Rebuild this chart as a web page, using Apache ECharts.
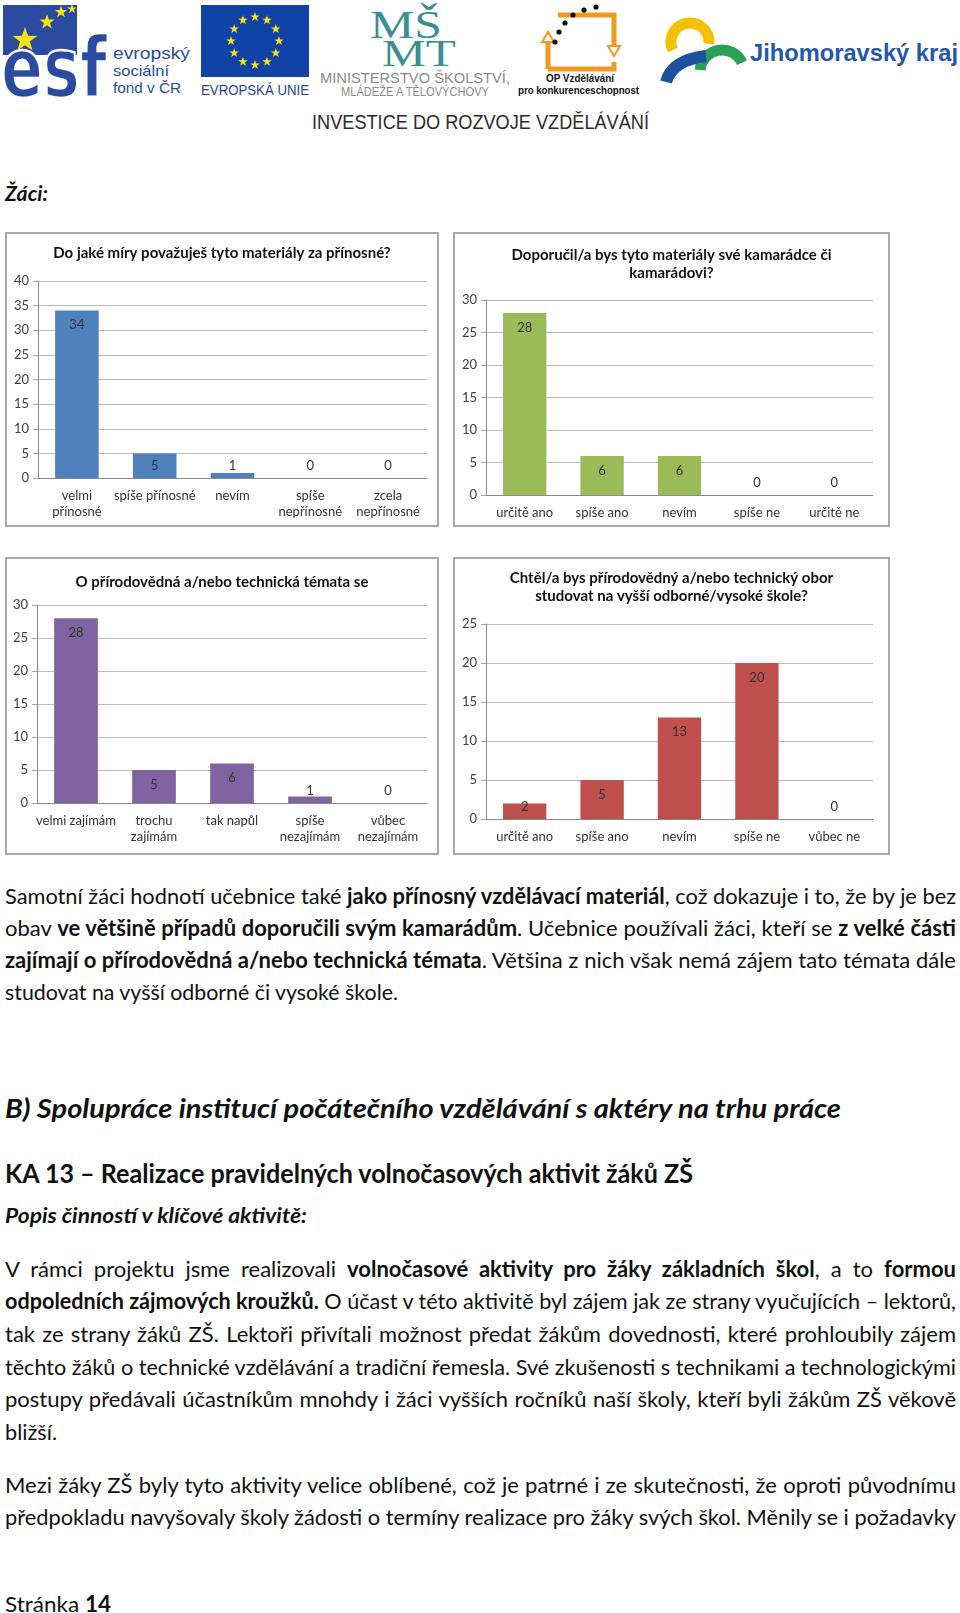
<!DOCTYPE html>
<html>
<head>
<meta charset="utf-8">
<script src="https://cdn.jsdelivr.net/npm/echarts@6/dist/echarts.min.js"></script>
<style>
  html, body { margin:0; padding:0; background:#fff; }
  body { width:960px; height:1613px; position:relative; overflow:hidden; font-family:Lato, "Open Sans", sans-serif; color:#111; }
  .box { position:absolute; box-sizing:border-box; border:2px solid #a8a8a8; pointer-events:none; }
  .chart { position:absolute; }
  .ln { position:absolute; left:5px; height:34px; line-height:34px; white-space:nowrap; font-size:22px; color:#111; }
  .ln span { display:inline-block; transform-origin:0 50%; }
  .h1 { font-size:27px; font-weight:bold; font-style:italic; }
  .h2 { font-size:26px; font-weight:bold; }
  .h3 { font-size:20px; font-weight:bold; font-style:italic; }
</style>
</head>
<body>

<svg id="logos" width="960" height="140" style="position:absolute;left:0;top:0">
  <!-- ESF -->
  <rect x="3" y="5" width="74" height="50" fill="#2a4b9f"/>
  <text x="1" y="97" font-family="DejaVu Sans" font-weight="bold" font-size="84" fill="#2a4b9f" stroke="#fff" stroke-width="2.5" textLength="106" lengthAdjust="spacingAndGlyphs">esf</text>
  <g id="esfStars" fill="#f7e017"></g>
  <text x="113" y="59" font-family="Liberation Sans" font-size="17" fill="#2a4b9f" textLength="77" lengthAdjust="spacingAndGlyphs">evropský</text>
  <text x="113" y="76" font-family="Liberation Sans" font-size="15" fill="#2a4b9f" textLength="56" lengthAdjust="spacingAndGlyphs">sociální</text>
  <text x="113" y="93" font-family="Liberation Sans" font-size="15" fill="#2a4b9f" textLength="68" lengthAdjust="spacingAndGlyphs">fond v ČR</text>
  <!-- EU -->
  <rect x="201" y="5" width="108" height="72" fill="#1143a6"/>
  <g id="euStars" fill="#f7e017"></g>
  <text x="201" y="95" font-family="Liberation Sans" font-size="14" fill="#1d3f9b" textLength="108" lengthAdjust="spacingAndGlyphs">EVROPSKÁ UNIE</text>
  <!-- MSMT -->
  <text x="370" y="38" font-family="Liberation Serif" font-size="40" fill="#3b8f93" textLength="72" lengthAdjust="spacingAndGlyphs">MŠ</text>
  <text x="382" y="66" font-family="Liberation Serif" font-size="38" fill="#3b8f93" textLength="74" lengthAdjust="spacingAndGlyphs">MT</text>
  <text x="320" y="83" font-family="Liberation Sans" font-size="14" fill="#8a8a8a" textLength="190" lengthAdjust="spacingAndGlyphs">MINISTERSTVO ŠKOLSTVÍ,</text>
  <text x="341" y="96" font-family="Liberation Sans" font-size="12" fill="#8a8a8a" textLength="148" lengthAdjust="spacingAndGlyphs">MLÁDEŽE A TĚLOVÝCHOVY</text>
  <!-- OP -->
  <path d="M558,15 L614,15 L614,48 M548,69 L614,69 L614,62 M548,69 L548,40" fill="none" stroke="#f29a1f" stroke-width="5"/>
  <path d="M608,46 L620,46 L614,56 Z M542,42 L554,42 L548,32 Z" fill="#fff" stroke="#f29a1f" stroke-width="2"/>
  <g fill="#111">
    <circle cx="555" cy="42" r="2.6"/><circle cx="559" cy="32" r="2.6"/><circle cx="565" cy="23" r="2.6"/>
    <circle cx="573" cy="15" r="2.6"/><circle cx="584" cy="10" r="2.6"/><circle cx="596" cy="7" r="2.6"/>
  </g>
  <text x="546" y="82" font-family="Liberation Sans" font-weight="bold" font-size="10" fill="#111" textLength="68" lengthAdjust="spacingAndGlyphs">OP Vzdělávání</text>
  <text x="518" y="94" font-family="Liberation Sans" font-weight="bold" font-size="10" fill="#111" textLength="121" lengthAdjust="spacingAndGlyphs">pro konkurenceschopnost</text>
  <!-- Jihomoravsky kraj -->
  <path id="jmkY" fill="none" stroke="#f2c200" stroke-width="11"/>
  <path id="jmkG" fill="none" stroke="#2b9f55" stroke-width="11"/>
  <path d="M666,82 Q672,60 706,56" fill="none" stroke="#1f4fa0" stroke-width="12"/>
  <text x="750" y="61" font-family="Liberation Sans" font-weight="bold" font-size="24" fill="#2557a8" textLength="208" lengthAdjust="spacingAndGlyphs">Jihomoravský kraj</text>
  <!-- Investice -->
  <text x="312" y="129" font-family="Liberation Sans Narrow, Liberation Sans" font-size="21" fill="#2b2b2b" textLength="337" lengthAdjust="spacingAndGlyphs">INVESTICE DO ROZVOJE VZDĚLÁVÁNÍ</text>
</svg>

<div class="ln h3" style="top:176px;font-size:21px" data-w="43" data-m="s"><span>Žáci:</span></div>

<div id="c1" class="chart"></div><div id="b1" class="box"></div>
<div id="c2" class="chart"></div><div id="b2" class="box"></div>
<div id="c3" class="chart"></div><div id="b3" class="box"></div>
<div id="c4" class="chart"></div><div id="b4" class="box"></div>

<div class="ln" style="top:879px" data-w="951" data-m="j"><span>Samotní žáci hodnotí učebnice také <b>jako přínosný vzdělávací materiál</b>, což dokazuje i to, že by je bez</span></div>
<div class="ln" style="top:911px" data-w="951" data-m="j"><span>obav <b>ve většině případů doporučili svým kamarádům</b>. Učebnice používali žáci, kteří se <b>z velké části</b></span></div>
<div class="ln" style="top:943px" data-w="951" data-m="j"><span><b>zajímají o přírodovědná a/nebo technická témata</b>. Většina z nich však nemá zájem tato témata dále</span></div>
<div class="ln" style="top:975px" data-w="393" data-m="s"><span>studovat na vyšší odborné či vysoké škole.</span></div>

<div class="ln h1" style="top:1091px" data-w="836" data-m="s"><span>B) Spolupráce institucí počátečního vzdělávání s aktéry na trhu práce</span></div>
<div class="ln h2" style="top:1156px" data-w="688" data-m="s"><span>KA 13 – Realizace pravidelných volnočasových aktivit žáků ZŠ</span></div>
<div class="ln h3" style="top:1198px" data-w="302" data-m="s"><span>Popis činností v klíčové aktivitě:</span></div>

<div class="ln" style="top:1252px" data-w="951" data-m="j"><span>V rámci projektu jsme realizovali <b>volnočasové aktivity pro žáky základních škol</b>, a to <b>formou</b></span></div>
<div class="ln" style="top:1284px" data-w="951" data-m="j"><span><b>odpoledních zájmových kroužků.</b> O účast v této aktivitě byl zájem jak ze strany vyučujících – lektorů,</span></div>
<div class="ln" style="top:1317px" data-w="951" data-m="j"><span>tak ze strany žáků ZŠ. Lektoři přivítali možnost předat žákům dovednosti, které prohloubily zájem</span></div>
<div class="ln" style="top:1350px" data-w="951" data-m="j"><span>těchto žáků o technické vzdělávání a tradiční řemesla. Své zkušenosti s technikami a technologickými</span></div>
<div class="ln" style="top:1382px" data-w="951" data-m="j"><span>postupy předávali účastníkům mnohdy i žáci vyšších ročníků naší školy, kteří byli žákům ZŠ věkově</span></div>
<div class="ln" style="top:1415px" data-w="52" data-m="s"><span>bližší.</span></div>

<div class="ln" style="top:1468px" data-w="951" data-m="j"><span>Mezi žáky ZŠ byly tyto aktivity velice oblíbené, což je patrné i ze skutečnosti, že oproti původnímu</span></div>
<div class="ln" style="top:1500px" data-w="951" data-m="j"><span>předpokladu navyšovaly školy žádosti o termíny realizace pro žáky svých škol. Měnily se i požadavky</span></div>

<div class="ln" style="top:1587px" data-w="106" data-m="s"><span>Stránka <b>14</b></span></div>

<script>
// ---------- DATA ----------
const chart1Title = 'Do jaké míry považuješ tyto materiály za přínosné?';
const chart1Categories = ['velmi\npřínosné', 'spíše přínosné', 'nevím', 'spíše\nnepřínosné', 'zcela\nnepřínosné'];
const chart1Values = [34, 5, 1, 0, 0];
const chart1AxisTicks = [0, 40, 5]; // min, max, interval

const chart2Title = 'Doporučil/a bys tyto materiály své kamarádce či\nkamarádovi?';
const chart2Categories = ['určitě ano', 'spíše ano', 'nevím', 'spíše ne', 'určitě ne'];
const chart2Values = [28, 6, 6, 0, 0];
const chart2AxisTicks = [0, 30, 5];

const chart3Title = 'O přírodovědná a/nebo technická témata se';
const chart3Categories = ['velmi zajímám', 'trochu\nzajímám', 'tak napůl', 'spíše\nnezajímám', 'vůbec\nnezajímám'];
const chart3Values = [28, 5, 6, 1, 0];
const chart3AxisTicks = [0, 30, 5];

const chart4Title = 'Chtěl/a bys přírodovědný a/nebo technický obor\nstudovat na vyšší odborné/vysoké škole?';
const chart4Categories = ['určitě ano', 'spíše ano', 'nevím', 'spíše ne', 'vůbec ne'];
const chart4Values = [2, 5, 13, 20, 0];
const chart4AxisTicks = [0, 25, 5];

// ---------- LAYOUT / STYLE ----------
const layouts = [
  { id: 'c1', box: 'b1', x: 5,   y: 232, w: 434, h: 295, grid: { left: 33, right: 12, top: 49, bottom: 49 }, titleTop: 12, color: '#4f81bd' },
  { id: 'c2', box: 'b2', x: 453, y: 232, w: 437, h: 295, grid: { left: 33, right: 17, top: 68, bottom: 32 }, titleTop: 14, color: '#9bbb59' },
  { id: 'c3', box: 'b3', x: 5,   y: 557, w: 434, h: 298, grid: { left: 32, right: 12, top: 48, bottom: 52 }, titleTop: 16, color: '#8064a2' },
  { id: 'c4', box: 'b4', x: 453, y: 557, w: 437, h: 298, grid: { left: 33, right: 17, top: 67, bottom: 36 }, titleTop: 12, color: '#c0504d' }
];
const charts = [
  [chart1Title, chart1Categories, chart1Values, chart1AxisTicks],
  [chart2Title, chart2Categories, chart2Values, chart2AxisTicks],
  [chart3Title, chart3Categories, chart3Values, chart3AxisTicks],
  [chart4Title, chart4Categories, chart4Values, chart4AxisTicks]
];

function makeOption(title, cats, vals, ticks, L) {
  const [min, max, interval] = ticks;
  const plotH = L.h - L.grid.top - L.grid.bottom;
  return {
    animation: false,
    title: {
      text: title, left: 'center', top: L.titleTop, padding: 0,
      textStyle: { fontFamily: 'Lato', fontWeight: 'bold', fontSize: 15, color: '#111', lineHeight: 18 }
    },
    grid: L.grid,
    xAxis: {
      type: 'category', data: cats,
      axisTick: { show: false },
      axisLine: { lineStyle: { color: '#8a8a8a' } },
      axisLabel: { interval: 0, margin: 10, fontFamily: 'Lato', fontSize: 13, color: '#333', lineHeight: 16 }
    },
    yAxis: {
      type: 'value', min: min, max: max, interval: interval,
      axisLine: { show: true, lineStyle: { color: '#8a8a8a' } },
      axisTick: { show: true, length: 5, lineStyle: { color: '#a6a6a6' } },
      splitLine: { lineStyle: { color: '#bcbcbc' } },
      axisLabel: { margin: 9, fontFamily: 'Lato', fontSize: 13, color: '#404040' }
    },
    series: [{
      type: 'bar', barWidth: '56%',
      itemStyle: { color: L.color },
      label: { show: true, fontFamily: 'Lato', fontSize: 13, color: '#333' },
      data: vals.map(v => {
        const tall = (v - min) / (max - min) * plotH >= 28;
        return { value: v, label: { position: tall ? 'insideTop' : 'insideBottom', distance: tall ? 8 : 6 } };
      })
    }]
  };
}

layouts.forEach((L, i) => {
  const el = document.getElementById(L.id);
  const bx = document.getElementById(L.box);
  [el, bx].forEach(d => { d.style.left = L.x + 'px'; d.style.top = L.y + 'px'; d.style.width = L.w + 'px'; d.style.height = L.h + 'px'; });
  const c = echarts.init(el, null, { renderer: 'canvas' });
  const [t, cats, vals, ticks] = charts[i];
  c.setOption(makeOption(t, cats, vals, ticks, L));
});

// ---------- LOGO DECORATION ----------
const NS = 'http://www.w3.org/2000/svg';
function starPath(cx, cy, R, r) {
  let d = '';
  for (let i = 0; i < 10; i++) {
    const a = -Math.PI / 2 + i * Math.PI / 5, rad = i % 2 ? r : R;
    d += (i ? 'L' : 'M') + (cx + rad * Math.cos(a)).toFixed(2) + ',' + (cy + rad * Math.sin(a)).toFixed(2);
  }
  return d + 'Z';
}
function addStar(g, cx, cy, R) { const p = document.createElementNS(NS, 'path'); p.setAttribute('d', starPath(cx, cy, R, R * 0.4)); g.appendChild(p); }
const eu = document.getElementById('euStars');
for (let k = 0; k < 12; k++) { const a = k * Math.PI / 6; addStar(eu, 255 + 24 * Math.sin(a), 41 - 24 * Math.cos(a), 5); }
const es = document.getElementById('esfStars');
addStar(es, 25, 40, 13); addStar(es, 47, 22, 8); addStar(es, 61, 12, 6.5); addStar(es, 72, 9, 5);
function arcPath(cx, cy, r, a0, a1) {
  const p = a => [cx + r * Math.cos(a * Math.PI / 180), cy - r * Math.sin(a * Math.PI / 180)];
  const s = p(a0), e = p(a1), large = Math.abs(a0 - a1) > 180 ? 1 : 0;
  return 'M' + s[0] + ',' + s[1] + ' A' + r + ',' + r + ' 0 ' + large + ' 1 ' + e[0] + ',' + e[1];
}
document.getElementById('jmkY').setAttribute('d', arcPath(690, 42, 19, 205, -5));
document.getElementById('jmkG').setAttribute('d', arcPath(722, 72, 22, 175, 25));

// ---------- TEXT FITTING ----------
function fitLines() {
  document.querySelectorAll('.ln').forEach(el => {
    const span = el.firstElementChild;
    span.style.wordSpacing = '0px'; span.style.transform = 'none';
    const target = +el.dataset.w;
    const nat = span.getBoundingClientRect().width;
    if (el.dataset.m === 'j' && nat < target) {
      const gaps = (span.textContent.match(/ /g) || []).length;
      span.style.wordSpacing = ((target - nat) / gaps) + 'px';
    } else {
      span.style.transform = 'scaleX(' + (target / nat) + ')';
    }
  });
}
fitLines();
if (document.fonts && document.fonts.ready) document.fonts.ready.then(fitLines);
</script>
</body>
</html>
